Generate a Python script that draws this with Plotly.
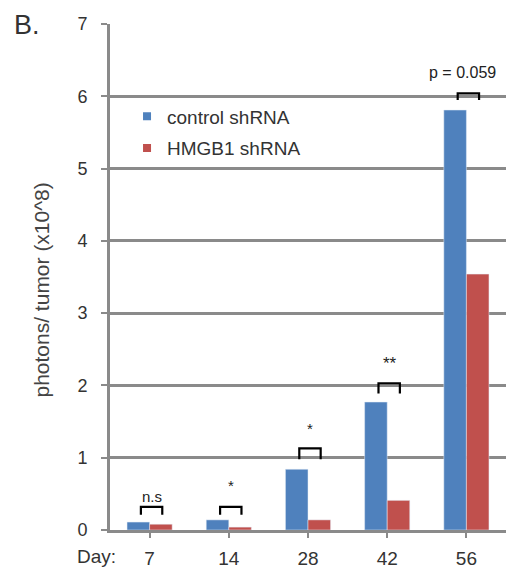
import plotly.graph_objects as go

days = ["7", "14", "28", "42", "56"]
control = [0.11, 0.14, 0.84, 1.77, 5.81]
hmgb1 = [0.08, 0.04, 0.14, 0.41, 3.54]
sig_labels = ["n.s", "*", "*", "**", "p = 0.059"]
bracket_top = [0.32, 0.32, 1.13, 2.03, 6.04]
bracket_leg = [0.21, 0.21, 0.98, 1.89, 5.95]
label_y = [0.46, 0.62, 1.40, 2.30, 6.33]
yticks = [0, 1, 2, 3, 4, 5, 6, 7]

BLUE = "#4F81BD"
RED = "#C0504D"
GRID = "#8a8a8a"
FONT = "Liberation Sans, Arial, sans-serif"

fig = go.Figure()
fig.add_trace(go.Bar(x=list(range(len(days))), y=control, marker_color=BLUE,
                     showlegend=False, name="control shRNA"))
fig.add_trace(go.Bar(x=list(range(len(days))), y=hmgb1, marker_color=RED,
                     showlegend=False, name="HMGB1 shRNA"))
# legend entries
fig.add_trace(go.Scatter(x=[None], y=[None], mode="markers", name="control shRNA",
                         marker=dict(symbol="square", size=8, color=BLUE),
                         legendgroup="a"))
fig.add_trace(go.Scatter(x=[None], y=[None], mode="markers", name="HMGB1 shRNA",
                         marker=dict(symbol="square", size=8, color=RED),
                         legendgroup="b"))

# significance brackets
for i, (lab, top, leg, ly) in enumerate(zip(sig_labels, bracket_top, bracket_leg, label_y)):
    x0, x1 = i - 0.11, i + 0.16
    fig.add_shape(type="path", xref="x", yref="y",
                  path=f"M {x0},{leg} L {x0},{top} L {x1},{top} L {x1},{leg}",
                  line=dict(color="black", width=2.2))
    fig.add_annotation(x=i + 0.03 if i < 4 else i - 0.05, y=ly, text=lab, showarrow=False,
                       font=dict(size=15 if i < 3 else (17 if i == 3 else 16),
                                 color="#222", family=FONT),
                       xanchor="center", yanchor="middle")

fig.add_annotation(xref="paper", yref="paper", x=0.02, y=-0.053, text="Day:",
                   showarrow=False, xanchor="right", yanchor="middle",
                   font=dict(size=19, color="#333", family=FONT))
fig.add_annotation(xref="paper", yref="paper", x=-0.248, y=0.998, text="B.",
                   showarrow=False, xanchor="left", yanchor="middle",
                   font=dict(size=27, color="#333", family=FONT))
fig.add_annotation(xref="paper", yref="paper", x=-0.172, y=0.475,
                   text="photons/ tumor (x10^8)", textangle=-90,
                   showarrow=False, xanchor="center", yanchor="middle",
                   font=dict(size=21, color="#444", family=FONT))

fig.update_layout(
    width=508, height=570,
    margin=dict(l=110, r=2, t=24, b=40, autoexpand=False),
    paper_bgcolor="white", plot_bgcolor="white",
    barmode="group", bargap=0.43, bargroupgap=0,
    font=dict(family=FONT, color="#333"),
    legend=dict(x=0.043, y=0.855, xanchor="left", yanchor="top",
                bgcolor="rgba(0,0,0,0)", font=dict(size=19, color="#333"),
                tracegroupgap=4, itemwidth=30),
    xaxis=dict(tickmode="array", tickvals=list(range(len(days))), ticktext=days,
               range=[-0.5, len(days) - 0.5], automargin=False,
               showline=True, linecolor=GRID, linewidth=3,
               ticks="outside", ticklen=5, tickcolor=GRID, tickwidth=2,
               showgrid=False, zeroline=False,
               tickfont=dict(size=19, color="#333"), ticklabelstandoff=4),
    yaxis=dict(range=[0, 7], tickvals=yticks, showgrid=True, gridcolor=GRID, gridwidth=2.5,
               showline=True, linecolor=GRID, linewidth=3, automargin=False,
               ticks="outside", ticklen=6, tickcolor=GRID, tickwidth=2,
               zeroline=False, tickfont=dict(size=18, color="#333"),
               ticklabelstandoff=10),
)
fig.write_html("out.html", config={"displayModeBar": False},
               post_script="document.body.style.margin='0';document.body.style.overflow='hidden';")
